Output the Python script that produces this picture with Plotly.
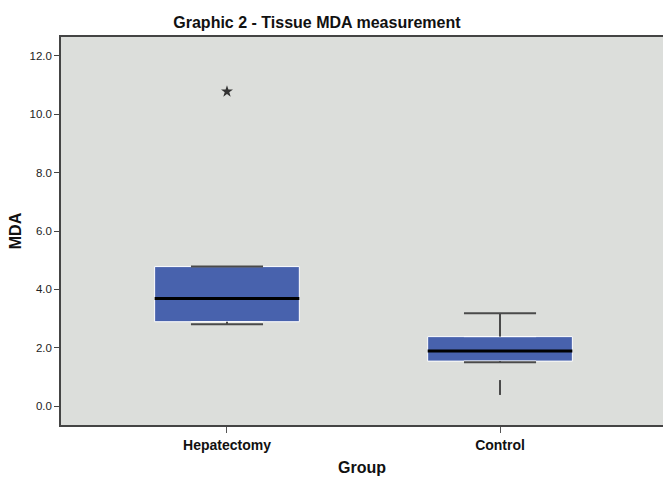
import plotly.graph_objects as go

groups = ["Hepatectomy", "Control"]
q1 = [2.89, 1.54]
median = [3.69, 1.89]
q3 = [4.78, 2.38]
lower_whisker = [2.80, 1.50]
upper_whisker = [4.78, 3.18]
outlier_group = ["Hepatectomy"]
outlier_value = [10.78]
low_mark_group = ["Control", "Control"]
low_mark_value = [0.38, 0.89]

ytick_vals = [0, 2, 4, 6, 8, 10, 12]

pos = {g: i for i, g in enumerate(groups)}
box_w = 0.53
cap_half = 0.132
font = "Arial, Liberation Sans, sans-serif"

fig = go.Figure()

fig.add_trace(go.Box(
    x=[pos[g] for g in groups], q1=q1, median=median, q3=q3,
    lowerfence=q1, upperfence=q3, width=box_w,
    fillcolor="#4862ad", line=dict(color="#ffffff", width=1),
    boxpoints=False, hoverinfo="skip", showlegend=False,
))

# whiskers
for i, g in enumerate(groups):
    x0 = pos[g]
    fig.add_trace(go.Scatter(
        x=[x0, x0, None, x0, x0, None, x0 - cap_half, x0 + cap_half, None, x0 - cap_half, x0 + cap_half],
        y=[q3[i], upper_whisker[i], None, q1[i], lower_whisker[i], None,
           upper_whisker[i], upper_whisker[i], None, lower_whisker[i], lower_whisker[i]],
        mode="lines", line=dict(color="#4a4a4a", width=2), showlegend=False, hoverinfo="skip",
    ))
    fig.add_trace(go.Scatter(
        x=[x0 - box_w / 2, x0 + box_w / 2], y=[median[i], median[i]],
        mode="lines", line=dict(color="#000000", width=3), showlegend=False, hoverinfo="skip",
    ))

fig.add_trace(go.Scatter(
    x=[pos[g] for g in low_mark_group], y=low_mark_value, mode="lines",
    line=dict(color="#4a4a4a", width=2), showlegend=False, hoverinfo="skip",
))

fig.add_trace(go.Scatter(
    x=[pos[g] for g in outlier_group], y=outlier_value, mode="markers",
    marker=dict(symbol="star", size=9, color="#333333"), showlegend=False,
))

fig.update_layout(
    width=663, height=477,
    margin=dict(l=61, r=0, t=37, b=52),
    paper_bgcolor="white", plot_bgcolor="#dcdedb",
    font=dict(family=font, color="#222222"),
    title=dict(text="<b>Graphic 2 - Tissue MDA measurement</b>", x=0.478, xanchor="center",
               y=0.954, yanchor="middle", font=dict(size=16, color="#111111")),
    xaxis=dict(range=[-0.608, 1.597], tickvals=[0, 1], ticktext=["<b>%s</b>" % g for g in groups],
               showgrid=False, zeroline=False, showline=True, mirror=True,
               linecolor="#444444", linewidth=1.5, ticks="outside", ticklen=6, tickcolor="#555555",
               tickfont=dict(size=14, color="#111111"),
               title=dict(text="<b>Group</b>", font=dict(size=16, color="#111111"), standoff=10)),
    yaxis=dict(range=[-0.65, 12.65], tickvals=ytick_vals, tickformat=".1f",
               showgrid=False, zeroline=False, showline=True, linecolor="#444444", linewidth=1.5,
               ticks="outside", ticklen=5, tickcolor="#444444",
               tickfont=dict(size=11.5, color="#222222"),
               title=dict(text="<b>MDA</b>", font=dict(size=16, color="#111111"), standoff=4)),
)

fig.write_html("out.html", config={"displayModeBar": False},
               post_script="document.body.style.margin='0';document.body.style.overflow='hidden';")
